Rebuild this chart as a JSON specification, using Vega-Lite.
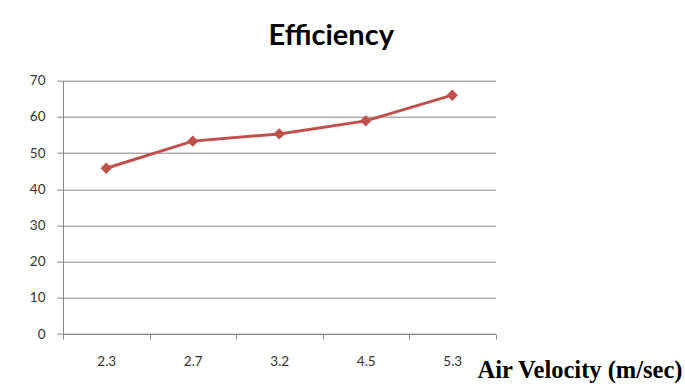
{
  "$schema": "https://vega.github.io/schema/vega-lite/v6.json",
  "autosize": {"type": "none"},
  "width": 432.5,
  "height": 253.3,
  "padding": {"left": 63, "top": 80.7, "right": 189.5, "bottom": 53},
  "background": "white",
  "title": {
    "text": "Efficiency",
    "font": "Lato",
    "fontSize": 29,
    "fontWeight": "bold",
    "color": "#000000",
    "anchor": "middle",
    "frame": "group",
    "dx": 52,
    "baseline": "alphabetic",
    "offset": 0
  },
  "data": {
    "values": [
      {"velocity": "2.3", "efficiency": 45.8},
      {"velocity": "2.7", "efficiency": 53.3},
      {"velocity": "3.2", "efficiency": 55.3},
      {"velocity": "4.5", "efficiency": 58.9},
      {"velocity": "5.3", "efficiency": 66.0}
    ]
  },
  "encoding": {
    "x": {
      "field": "velocity",
      "type": "ordinal",
      "sort": null,
      "scale": {"type": "band", "paddingInner": 0, "paddingOuter": 0},
      "axis": {
        "title": "Air Velocity (m/sec)",
        "titleFont": "Liberation Serif",
        "titleFontSize": 24.5,
        "titleFontWeight": "bold",
        "titleColor": "#000000",
        "titleAlign": "left",
        "titleAnchor": null,
        "titleBaseline": "alphabetic",
        "titleX": 414,
        "titleY": 43,
        "labelAngle": 0,
        "labelFont": "Lato",
        "labelFontSize": 13.5,
        "labelColor": "#333333",
        "labelPadding": 15,
        "tickBand": "extent",
        "tickSize": 5,
        "tickColor": "#868686",
        "domainColor": "#868686",
        "grid": false
      }
    },
    "y": {
      "field": "efficiency",
      "type": "quantitative",
      "scale": {"domain": [0, 70]},
      "axis": {
        "title": null,
        "values": [0, 10, 20, 30, 40, 50, 60, 70],
        "labelFont": "Lato",
        "labelFontSize": 13.5,
        "labelColor": "#333333",
        "labelPadding": 12,
        "tickSize": 6,
        "tickColor": "#868686",
        "domainColor": "#868686",
        "gridColor": "#868686",
        "gridOpacity": 1
      }
    }
  },
  "layer": [
    {
      "mark": {"type": "line", "color": "#C0504D", "strokeWidth": 3}
    },
    {
      "mark": {"type": "point", "shape": "diamond", "filled": true, "color": "#C0504D", "opacity": 1, "size": 130}
    }
  ],
  "config": {
    "view": {"stroke": null}
  }
}
